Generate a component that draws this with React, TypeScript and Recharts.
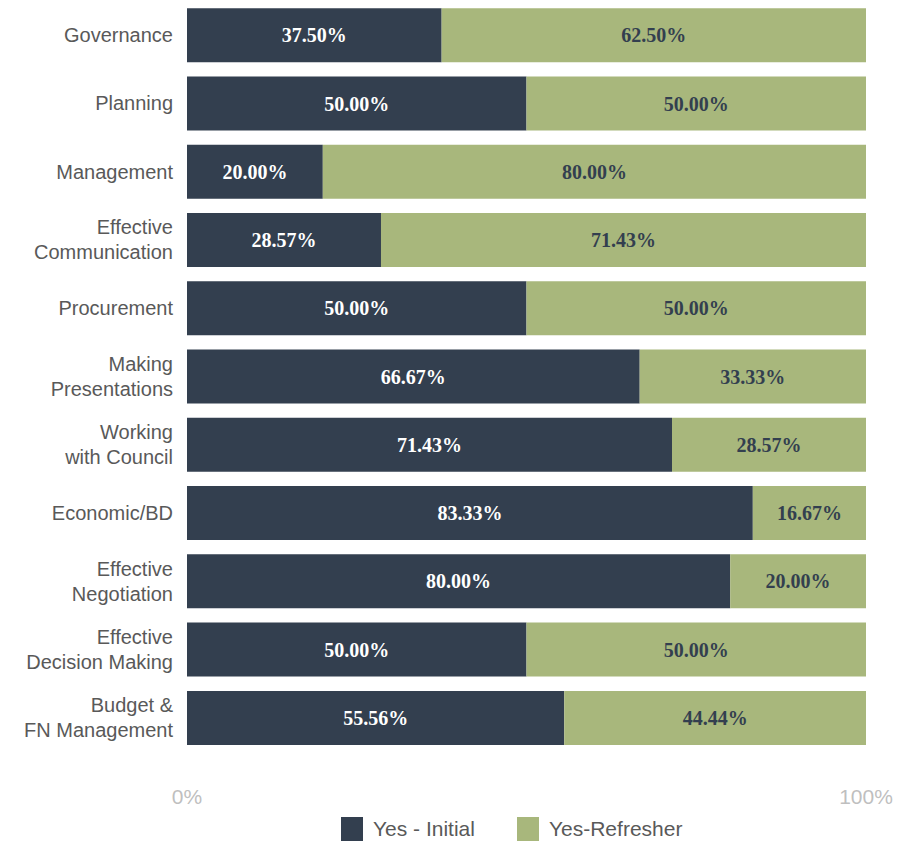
import { Bar, BarChart, LabelList, Legend, XAxis, YAxis } from 'recharts'

const CATEGORIES = [
  'Governance',
  'Planning',
  'Management',
  'Effective\nCommunication',
  'Procurement',
  'Making\nPresentations',
  'Working\nwith Council',
  'Economic/BD',
  'Effective\nNegotiation',
  'Effective\nDecision Making',
  'Budget &\nFN Management',
]
const YES_INITIAL = [37.5, 50, 20, 28.57, 50, 66.67, 71.43, 83.33, 80, 50, 55.56]
const YES_REFRESHER = [62.5, 50, 80, 71.43, 50, 33.33, 28.57, 16.67, 20, 50, 44.44]
const X_TICKS = [0, 100]

const DARK = '#333f4f'
const GREEN = '#a8b77c'
const SANS = 'Arial, "Liberation Sans", sans-serif'
const SERIF = '"Liberation Serif", "Times New Roman", serif'

const data = CATEGORIES.map((name, i) => ({
  name,
  initial: YES_INITIAL[i],
  refresher: YES_REFRESHER[i],
}))

const fmt = (v: number) => `${v.toFixed(2)}%`

function CategoryTick({ x, y, payload }: any) {
  const lines = String(payload.value).split('\n')
  return (
    <text x={x} y={y} textAnchor="end" fill="#595959" fontSize={20} fontFamily={SANS}>
      {lines.map((line, i) => (
        <tspan key={i} x={x} y={y + (i - (lines.length - 1) / 2) * 25} dy="0.35em">
          {line}
        </tspan>
      ))}
    </text>
  )
}

function LegendContent() {
  const items = [
    { label: 'Yes - Initial', color: DARK },
    { label: 'Yes-Refresher', color: GREEN },
  ]
  return (
    <div style={{ display: 'flex', paddingTop: 5, paddingLeft: 341, height: 24 }}>
      {items.map((it) => (
        <div key={it.label} style={{ display: 'flex', alignItems: 'center', marginRight: 42 }}>
          <span style={{ width: 22, height: 24, background: it.color, marginRight: 10 }} />
          <span style={{ fontFamily: SANS, fontSize: 21, color: '#595959' }}>{it.label}</span>
        </div>
      ))}
    </div>
  )
}

export default function App() {
  return (
    <div style={{ position: 'absolute', left: 0, top: 0, width: 919, height: 841, background: '#fff' }}>
      <BarChart
        width={919}
        height={841}
        data={data}
        layout="vertical"
        barCategoryGap="10.5%"
        margin={{ top: 1, right: 53, bottom: 0, left: 0 }}
      >
        <XAxis
          type="number"
          domain={[0, 100]}
          ticks={X_TICKS}
          tickFormatter={(v) => `${v}%`}
          axisLine={false}
          tickLine={false}
          tickSize={0}
          tickMargin={37}
          height={60}
          tick={{ fill: '#bfbfbf', fontSize: 21, fontFamily: SANS }}
        />
        <YAxis
          type="category"
          dataKey="name"
          width={187}
          axisLine={false}
          tickLine={false}
          tickSize={0}
          tickMargin={14}
          interval={0}
          tick={<CategoryTick />}
        />
        <Legend verticalAlign="bottom" align="left" content={<LegendContent />} wrapperStyle={{ left: 0, width: 919 }} />
        <Bar dataKey="initial" stackId="a" fill={DARK} isAnimationActive={false}>
          <LabelList
            dataKey="initial"
            position="center"
            formatter={(v: any) => fmt(Number(v))}
            fill="#ffffff"
            fontSize={20}
            fontWeight="bold"
            fontFamily={SERIF}
          />
        </Bar>
        <Bar dataKey="refresher" stackId="a" fill={GREEN} isAnimationActive={false}>
          <LabelList
            dataKey="refresher"
            position="center"
            formatter={(v: any) => fmt(Number(v))}
            fill={DARK}
            fontSize={20}
            fontWeight="bold"
            fontFamily={SERIF}
          />
        </Bar>
      </BarChart>
    </div>
  )
}
